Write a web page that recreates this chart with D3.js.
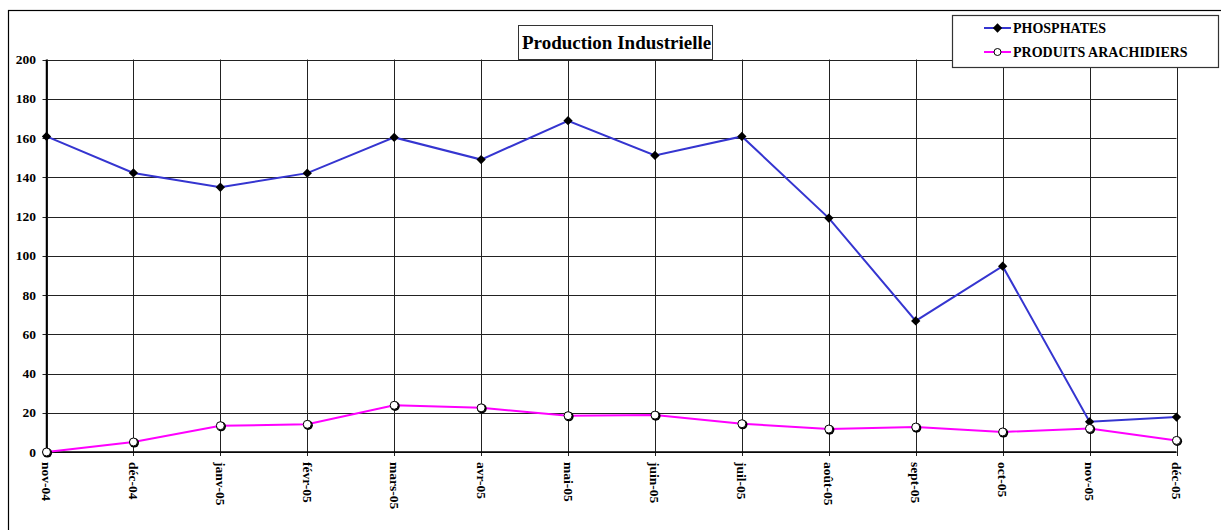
<!DOCTYPE html>
<html><head><meta charset="utf-8">
<script src="https://cdn.jsdelivr.net/npm/d3@7"></script>
<style>body{margin:0;background:#fff}svg{display:block}text{font-family:"Liberation Serif","Times New Roman",serif;font-weight:bold;fill:#000}</style>
</head><body><svg id="c" width="1221" height="530"></svg>
<script>
const months = ["nov-04","déc-04","janv-05","févr-05","mars-05","avr-05","mai-05","juin-05","juil-05","août-05","sept-05","oct-05","nov-05","déc-05"];
const phosphates = [160.8,142.2,134.9,142.1,160.3,149.0,168.8,151.1,160.8,119.2,66.8,94.7,15.4,17.8];
const arachidiers = [0,5.1,13.4,14.1,23.8,22.5,18.5,18.8,14.4,11.7,12.7,10.2,12.0,5.9];
const yTicks = [0,20,40,60,80,100,120,140,160,180,200];
const title = "Production Industrielle";
const seriesNames = ["PHOSPHATES","PRODUITS ARACHIDIERS"];

const svg = d3.select("#c");
const L = 46.5, R = 1176.5, T = 59.5, B = 452;
const x = d3.scalePoint().domain(months).range([L, R]);
const y = d3.scaleLinear().domain([0,200]).range([B, T]);

// outer frame
svg.append("rect").attr("x",8.5).attr("y",10.5).attr("width",1300).attr("height",600)
  .attr("fill","none").attr("stroke","#000").attr("stroke-width",1.2);

// grid
const g = svg.append("g");
g.selectAll("line.h").data(yTicks).join("line")
  .attr("x1",L-4).attr("x2",R).attr("y1",d=>Math.round(y(d))+0.5).attr("y2",d=>Math.round(y(d))+0.5)
  .attr("stroke","#222").attr("stroke-width",1);
g.selectAll("line.v").data(months).join("line")
  .attr("x1",d=>Math.round(x(d))+0.5).attr("x2",d=>Math.round(x(d))+0.5)
  .attr("y1",T).attr("y2",B+4).attr("stroke","#222").attr("stroke-width",1);
// axes
svg.append("line").attr("x1",L).attr("x2",L).attr("y1",T).attr("y2",B).attr("stroke","#000").attr("stroke-width",1.5);
svg.append("line").attr("x1",L).attr("x2",R).attr("y1",B).attr("y2",B).attr("stroke","#000").attr("stroke-width",1.5);

// y labels
svg.selectAll("text.yl").data(yTicks).join("text")
  .attr("x",36).attr("y",d=>y(d)).attr("dy","0.35em").attr("text-anchor","end")
  .attr("font-size",13.5).text(d=>d);
// x labels
svg.selectAll("text.xl").data(months).join("text")
  .attr("transform",d=>`translate(${x(d)},${B+10}) rotate(90)`)
  .attr("dominant-baseline","central").attr("text-anchor","start")
  .attr("font-size",13.5).text(d=>d);

const line = d3.line().x((d,i)=>x(months[i])).y(d=>y(d));
svg.append("path").datum(phosphates).attr("d",line).attr("fill","none").attr("stroke","#3535D0").attr("stroke-width",2);
svg.append("path").datum(arachidiers).attr("d",line).attr("fill","none").attr("stroke","#FF00FF").attr("stroke-width",2);

const diamond = d3.symbol().type(d3.symbolDiamond2).size(55);
svg.selectAll("path.pm").data(phosphates).join("path")
  .attr("transform",(d,i)=>`translate(${x(months[i])},${y(d)})`).attr("d",diamond()).attr("fill","#000");
svg.selectAll("circle.am").data(arachidiers).join("circle")
  .attr("cx",(d,i)=>x(months[i])+0.8).attr("cy",d=>y(d)+0.8).attr("r",4.8).attr("fill","#000");
svg.selectAll("circle.am2").data(arachidiers).join("circle")
  .attr("cx",(d,i)=>x(months[i])).attr("cy",d=>y(d)).attr("r",4).attr("fill","#fff").attr("stroke","#000").attr("stroke-width",1);

// title box
svg.append("rect").attr("x",518.5).attr("y",25.5).attr("width",194).attr("height",34)
  .attr("fill","#fff").attr("stroke","#333").attr("stroke-width",1);
svg.append("text").attr("x",522).attr("y",49).attr("font-size",19).text(title);

// legend
const lg = svg.append("g");
lg.append("rect").attr("x",952.5).attr("y",15.5).attr("width",266).attr("height",52)
  .attr("fill","#fff").attr("stroke","#333").attr("stroke-width",1.2);
const cols = ["#3535D0","#FF00FF"];
seriesNames.forEach((n,i)=>{
  const yy = 28 + i*24;
  lg.append("line").attr("x1",984).attr("x2",1011).attr("y1",yy).attr("y2",yy).attr("stroke",cols[i]).attr("stroke-width",2);
  if(i===0) lg.append("path").attr("transform",`translate(997.5,${yy})`).attr("d",diamond()).attr("fill","#000");
  else lg.append("circle").attr("cx",997.5).attr("cy",yy).attr("r",3.5).attr("fill","#fff").attr("stroke","#000");
  lg.append("text").attr("x",1013).attr("y",yy).attr("dy","0.35em").attr("font-size",14).text(n);
});
</script></body></html>
